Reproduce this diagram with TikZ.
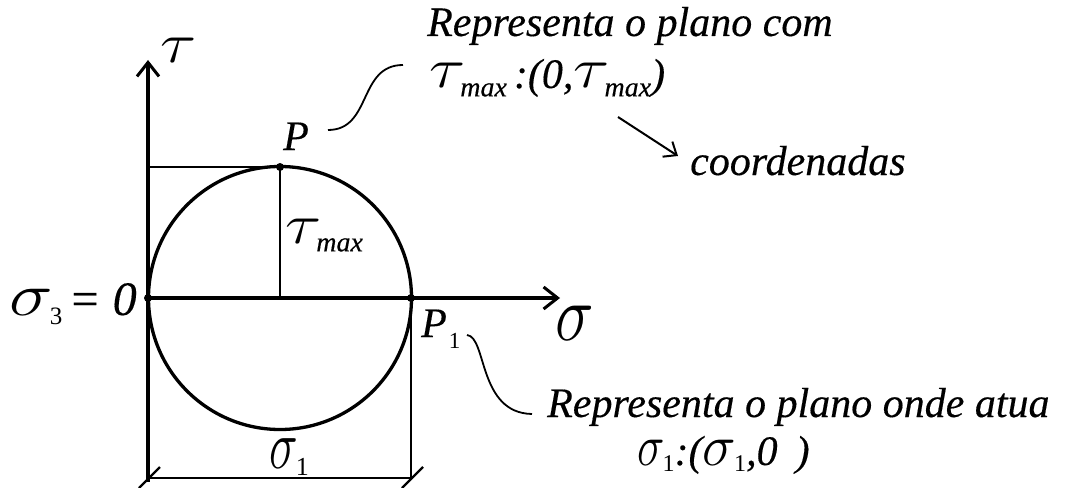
\RequirePackage{fix-cm}
\documentclass[tikz,border=0pt]{standalone}
\usepackage{fontspec}
\setmainfont{Liberation Serif}[ItalicFeatures={FakeBold=0.3}]
\usetikzlibrary{arrows.meta}
\newcommand{\subx}[3]{\raisebox{-#2}{\fontsize{#1}{#1}\selectfont\upshape #3}}
\newcommand{\submax}{\hspace{-5pt}\raisebox{-0.2em}{\fontsize{28}{28}\selectfont\itshape max}}
\newcommand{\gk}[3]{\scalebox{#1}[#2]{$#3$}}
\newcommand{\gtau}{\gk{1.6}{1.35}{\tau}}
\begin{document}
\begin{tikzpicture}[x=1pt,y=-1pt,
  axis/.style={line width=3.8pt,-{Straight Barb[length=14pt,width=22pt,line width=3pt]}},
  circ/.style={line width=3.3pt},
  thin/.style={line width=2.2pt},
  lead/.style={line width=1.8pt},
  pointer/.style={line width=2pt,-{Straight Barb[length=11pt,width=18pt,line width=2pt]}},
  dot/.style={circle,fill=black,inner sep=0pt,minimum size=8pt},
  lbl/.style={inner sep=0pt,anchor=base west,font=\fontsize{42}{48}\selectfont\itshape}]
\useasboundingbox (0,0) rectangle (1081,487);
% key points
\coordinate (O) at (148,298);
\coordinate (C) at (280,298);
\coordinate (P) at (280,167);
\coordinate (P1) at (411,298);
\coordinate (Ty) at (148,60);
\coordinate (Tb) at (148,482);
\coordinate (Sx) at (560,298);
\coordinate (H) at (148,167);
\coordinate (BL) at (148,478);
\coordinate (BR) at (411,478);
\coordinate (BLa) at (139,488);
\coordinate (BLb) at (160,467);
\coordinate (BRa) at (402,488);
\coordinate (BRb) at (423,467);
% circle and construction lines
\draw[circ] (C) circle[radius=131.5];
\draw[thin] (H) -- (P);
\draw[thin] (P) -- (C);
\draw[thin] (P1) -- (BR);
\draw[thin] (BL) -- (BR);
\draw[thin] (BLa) -- (BLb);
\draw[thin] (BRa) -- (BRb);
% axes
\draw[axis] (Tb) -- (Ty);
\draw[axis] (O) -- (Sx);
% points
\node[dot] (dO) at (O) {};
\node[dot] (dP) at (P) {};
\node[dot] (dP1) at (P1) {};
% labels
\node[lbl] (ltau) at (160,63) {\gtau};
\node[lbl] (lP) at (283,150) {P};
\node[lbl] (ltmax) at (285,243) {\gtau\submax};
\node[lbl,anchor=base east] (ls3) at (137,315) {\gk{1.75}{1.45}{\sigma}\hspace{-3pt}\subx{25}{9pt}{3}\hspace{6pt}{\fontsize{48}{48}\selectfont = 0}};
\node[lbl] (lsig) at (555,340) {\gk{1.55}{1.9}{\sigma}};
\node[lbl] (lP1) at (421,337) {P\hspace{2pt}\subx{23}{11pt}{1}};
\node[lbl] (ls1) at (269,468) {\gk{1.15}{1.65}{\sigma}\hspace{-2pt}\subx{26}{7pt}{1}};
\node[lbl] (t1) at (427,36) {Representa o plano com};
\node[lbl] (t2) at (429,88) {\gtau\submax\,:(0,\gtau\submax)};
\node[lbl] (t3) at (690,175) {coordenadas};
\node[lbl] (t4) at (547,417) {Representa o plano onde atua};
\node[lbl] (t5) at (637,465) {\gk{1.1}{1.4}{\sigma}\hspace{-2pt}\subx{24}{6pt}{1}:(\gk{1.35}{1.4}{\sigma}\hspace{-2pt}\subx{24}{6pt}{1},0\hspace{18pt})};
% leaders
\coordinate (a1) at (328,130);
\coordinate (a2) at (403,65);
\draw[lead] (a1) .. controls (372,130) and (358,65) .. (a2);
\coordinate (b1) at (467,335);
\coordinate (b2) at (532,414);
\draw[lead] (b1) .. controls (487,337) and (478,413) .. (b2);
\coordinate (c1) at (618,117);
\coordinate (c2) at (678,156);
\draw[pointer] (c1) -- (c2);
\end{tikzpicture}
\end{document}
